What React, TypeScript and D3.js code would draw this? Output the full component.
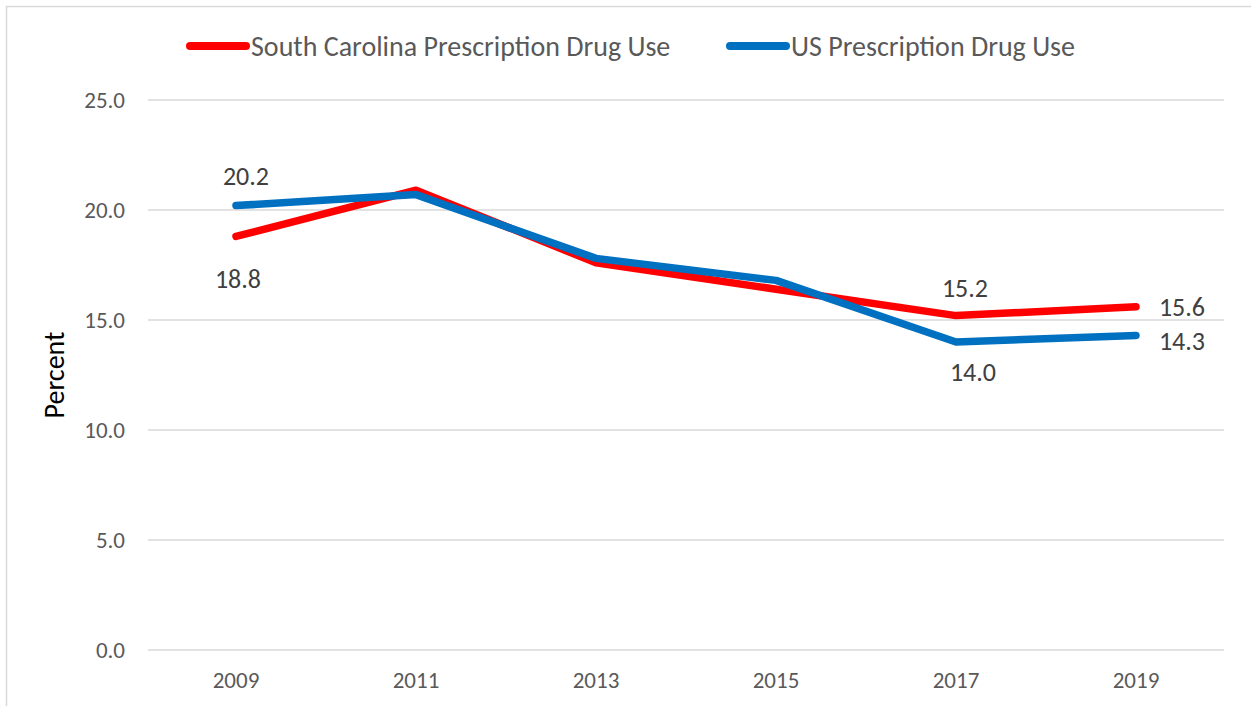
import React from 'react'
import * as d3 from 'd3'

const years = ['2009', '2011', '2013', '2015', '2017', '2019']
const scValues = [18.8, 20.9, 17.6, 16.4, 15.2, 15.6]
const usValues = [20.2, 20.7, 17.8, 16.8, 14.0, 14.3]
const yTicks = [0, 5, 10, 15, 20, 25]
// which points carry a data label (indices into years)
const scLabelIdx = [0, 4, 5]
const usLabelIdx = [0, 4, 5]

const W = 1251
const H = 706
const FONT = 'Carlito, Calibri, Lato, "Open Sans", sans-serif'

// label nudges in px, as placed in the original chart
const scNudge: Record<number, [number, number]> = { 0: [2, 42], 4: [9, -28], 5: [46, 0] }
const usNudge: Record<number, [number, number]> = { 0: [10, -30], 4: [17, 30], 5: [46, 5] }

export default function App() {
  const x = d3.scaleBand<string>().domain(years).range([146, 1226])
  const y = d3.scaleLinear().domain([0, 25]).range([650, 100])
  const cx = (d: string) => (x(d) ?? 0) + x.bandwidth() / 2

  const line = d3
    .line<number>()
    .x((_, i) => cx(years[i]))
    .y((d) => y(d))

  const series = [
    { name: 'South Carolina Prescription Drug Use', color: '#ff0000', values: scValues, idx: scLabelIdx, nudge: scNudge, lx: 190 },
    { name: 'US Prescription Drug Use', color: '#0070c0', values: usValues, idx: usLabelIdx, nudge: usNudge, lx: 730 },
  ]

  return (
    <svg
      width={W}
      height={H}
      style={{ position: 'absolute', left: 0, top: 0, background: '#fff' }}
      fontFamily={FONT}
    >
      <rect x={6.5} y={6.5} width={W + 10} height={H + 10} fill="#fff" stroke="#d9d9d9" strokeWidth={1.5} />

      {yTicks.map((t) => (
        <g key={t}>
          <line x1={148} x2={1224} y1={y(t)} y2={y(t)} stroke="#d9d9d9" strokeWidth={1.5} />
          <text x={125} y={y(t)} dy="0.35em" textAnchor="end" fontSize={23} fill="#595959">
            {d3.format('.1f')(t)}
          </text>
        </g>
      ))}

      {years.map((yr) => (
        <text key={yr} x={cx(yr)} y={688} textAnchor="middle" fontSize={23} fill="#595959">
          {yr}
        </text>
      ))}

      <text transform="translate(64,375) rotate(-90)" textAnchor="middle" fontSize={28} fill="#000">
        Percent
      </text>

      {series.map((s) => (
        <path
          key={s.name}
          d={line(s.values) ?? ''}
          fill="none"
          stroke={s.color}
          strokeWidth={7.5}
          strokeLinejoin="round"
          strokeLinecap="round"
        />
      ))}

      {series.map((s) =>
        s.idx.map((i) => {
          const v = s.values[i]
          const [dx, dy] = s.nudge[i]
          return (
            <text
              key={s.name + i}
              x={cx(years[i]) + dx}
              y={y(v) + dy}
              dy="0.36em"
              textAnchor="middle"
              fontSize={26}
              fill="#404040"
            >
              {d3.format('.1f')(v)}
            </text>
          )
        })
      )}

      {series.map((s) => (
        <g key={'lg' + s.name}>
          <line x1={s.lx} x2={s.lx + 56} y1={46} y2={46} stroke={s.color} strokeWidth={8} strokeLinecap="round" />
          <text x={s.lx + 61} y={46} dy="0.36em" fontSize={28} fill="#595959">
            {s.name}
          </text>
        </g>
      ))}
    </svg>
  )
}
